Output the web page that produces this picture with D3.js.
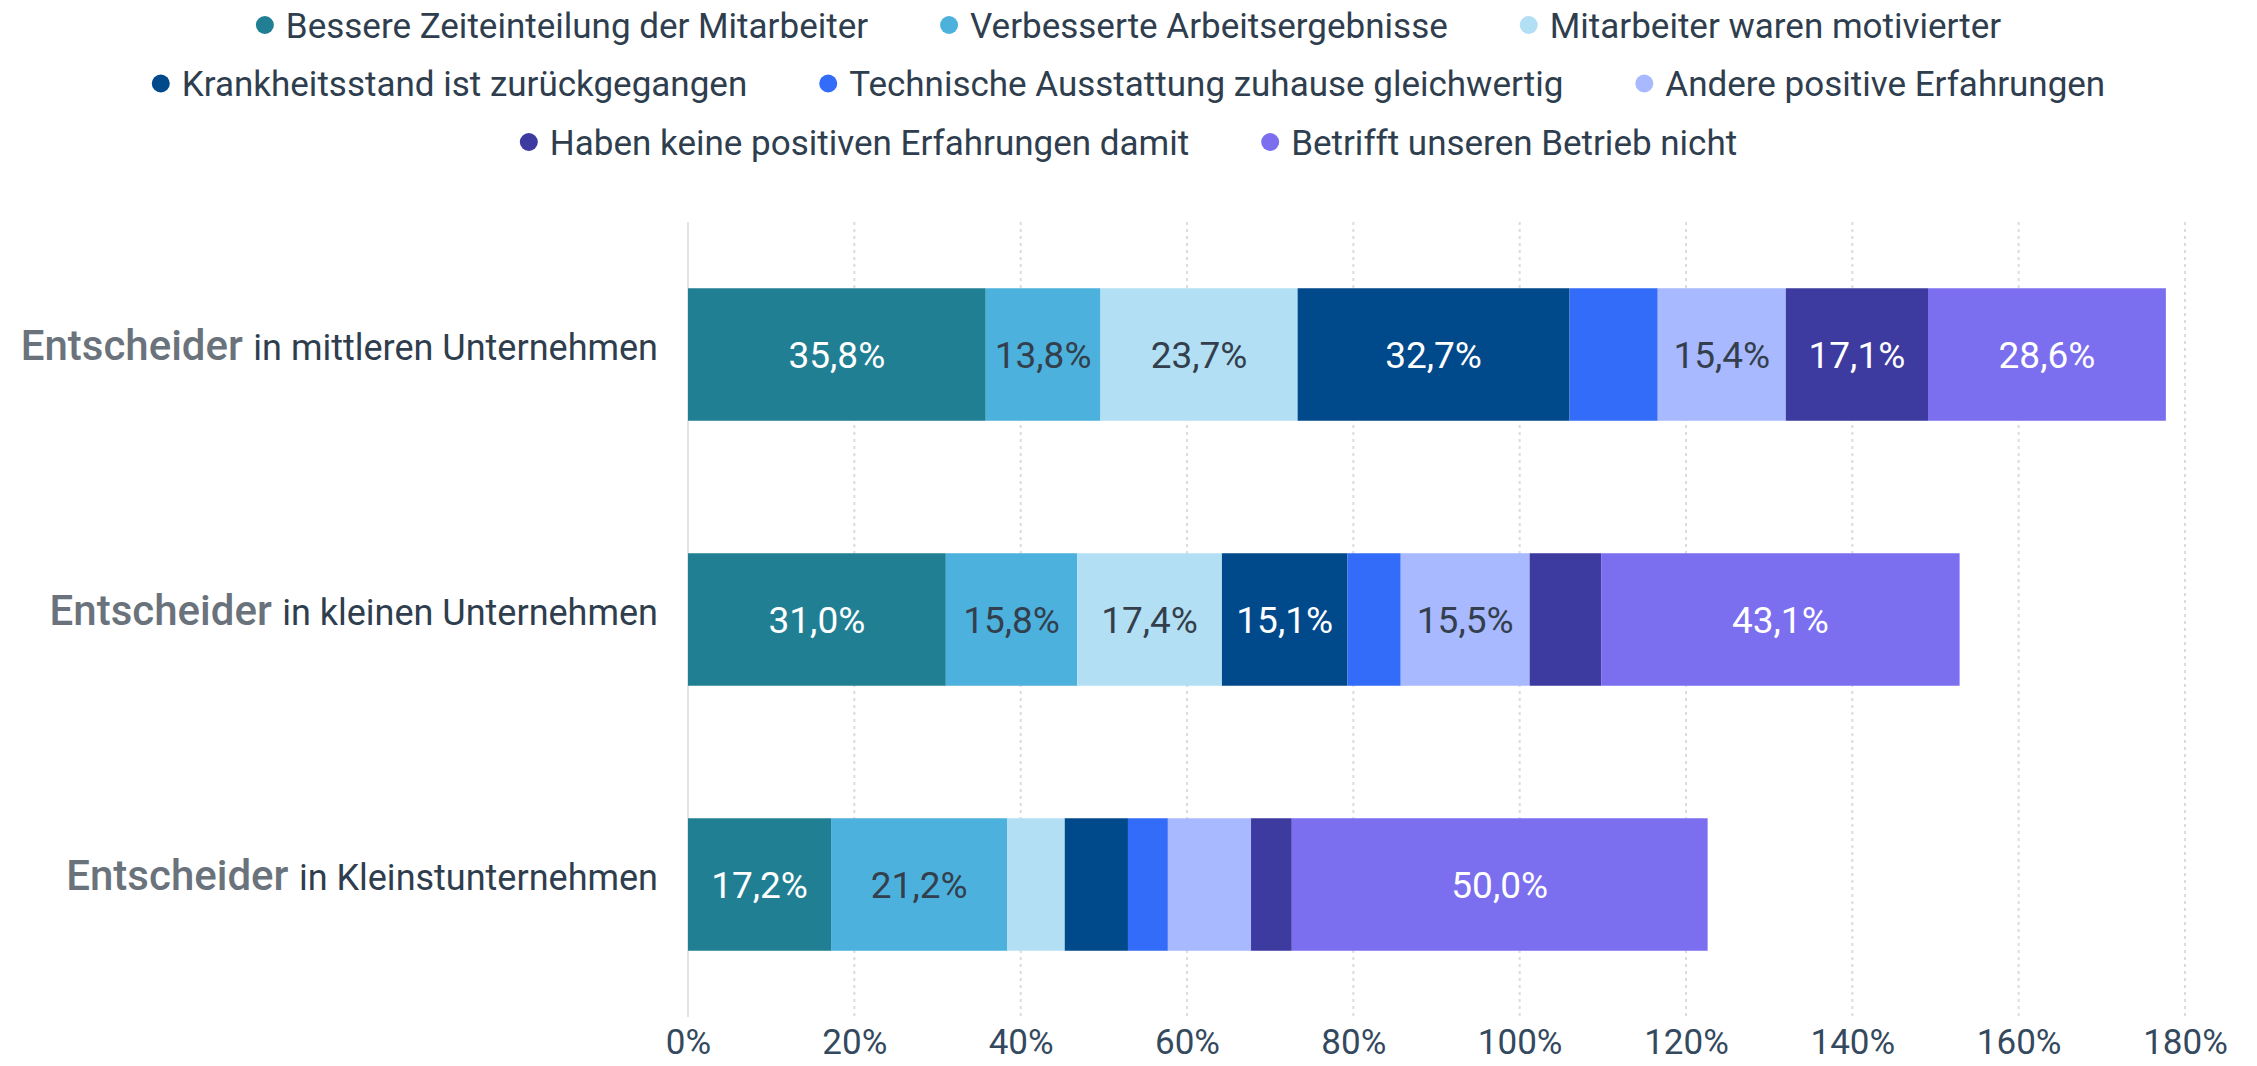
<!DOCTYPE html>
<html>
<head>
<meta charset="utf-8">
<script src="https://cdn.jsdelivr.net/npm/d3@7"></script>
<style>
  body { margin: 0; background: #fff; }
  text { font-family: Roboto, "Noto Sans", sans-serif; }
</style>
</head>
<body>
<svg id="chart"></svg>
<script>
// data
var categories = ["in mittleren Unternehmen", "in kleinen Unternehmen", "in Kleinstunternehmen"];
var seriesNames = [
  "Bessere Zeiteinteilung der Mitarbeiter",
  "Verbesserte Arbeitsergebnisse",
  "Mitarbeiter waren motivierter",
  "Krankheitsstand ist zurückgegangen",
  "Technische Ausstattung zuhause gleichwertig",
  "Andere positive Erfahrungen",
  "Haben keine positiven Erfahrungen damit",
  "Betrifft unseren Betrieb nicht"
];
var zeiteinteilung = [35.8, 31.0, 17.2];
var arbeitsergebnisse = [13.8, 15.8, 21.2];
var motivierter = [23.7, 17.4, 6.9];
var krankheitsstand = [32.7, 15.1, 7.6];
var ausstattung = [10.6, 6.4, 4.8];
var andere = [15.4, 15.5, 10.0];
var keine = [17.1, 8.6, 4.9];
var betrifftNicht = [28.6, 43.1, 50.0];
var xTicks = [0, 20, 40, 60, 80, 100, 120, 140, 160, 180];

var seriesValues = [zeiteinteilung, arbeitsergebnisse, motivierter, krankheitsstand,
                    ausstattung, andere, keine, betrifftNicht];
var colors = ["#217f94", "#4db1dd", "#b3dff5", "#00498b", "#336cf9", "#a8b9ff", "#3d3aa0", "#7b6ff0"];
var labelColors = ["#fff", "#333f4c", "#333f4c", "#fff", "#fff", "#333f4c", "#fff", "#fff"];
var legendRows = [[0, 1, 2], [3, 4, 5], [6, 7]];

var svgWidth = 2257, svgHeight = 1066;
var svg = d3.select("#chart").attr("width", svgWidth).attr("height", svgHeight);

var x = d3.scaleLinear().domain([0, 180]).range([688, 2185]);
var y = d3.scaleBand().domain(categories).range([222, 1017]).paddingInner(0.5).paddingOuter(0.25);

// stacked layout
var rows = categories.map(function(c, i) {
  var row = { cat: c };
  seriesNames.forEach(function(s, j) { row[s] = seriesValues[j][i]; });
  return row;
});
var stacked = d3.stack().keys(seriesNames)(rows);

// grid
svg.append("g").selectAll("line")
  .data(xTicks.slice(1))
  .join("line")
  .attr("x1", d => x(d)).attr("x2", d => x(d))
  .attr("y1", 222).attr("y2", 1017)
  .attr("stroke", "#dcdcdc")
  .attr("stroke-width", 2)
  .attr("stroke-dasharray", "3,4");

svg.append("line")
  .attr("x1", x(0)).attr("x2", x(0))
  .attr("y1", 222).attr("y2", 1017)
  .attr("stroke", "#e3e4e8")
  .attr("stroke-width", 2);

// bars
var layer = svg.append("g").selectAll("g")
  .data(stacked)
  .join("g")
  .attr("fill", (d, i) => colors[i]);

layer.selectAll("rect")
  .data(d => d)
  .join("rect")
  .attr("x", d => x(d[0]))
  .attr("y", d => y(d.data.cat))
  .attr("width", d => x(d[1]) - x(d[0]))
  .attr("height", y.bandwidth());

// value labels
stacked.forEach(function(s, i) {
  svg.append("g").selectAll("text")
    .data(s.filter(d => d[1] - d[0] >= 12))
    .join("text")
    .attr("x", d => (x(d[0]) + x(d[1])) / 2)
    .attr("y", d => y(d.data.cat) + y.bandwidth() / 2)
    .attr("dy", "0.36em")
    .attr("text-anchor", "middle")
    .attr("fill", labelColors[i])
    .style("font-size", "37px")
    .text(d => (d[1] - d[0]).toFixed(1).replace(".", ",") + "%");
});

// category labels
var catLabels = svg.append("g").selectAll("text")
  .data(categories)
  .join("text")
  .attr("x", 658)
  .attr("y", d => y(d) + y.bandwidth() / 2)
  .attr("dy", "0.36em")
  .attr("text-anchor", "end");
catLabels.append("tspan")
  .attr("fill", "#6a737c")
  .style("font-size", "42px")
  .style("font-weight", "500")
  .text("Entscheider ");
catLabels.append("tspan")
  .attr("fill", "#2f3e4e")
  .style("font-size", "36px")
  .text(d => d);

// x axis
var xAxis = d3.axisBottom(x).tickValues(xTicks).tickSize(0).tickPadding(0).tickFormat(d => d + "%");
var ax = svg.append("g").attr("transform", "translate(0,1042)").call(xAxis);
ax.select(".domain").remove();
ax.selectAll("text")
  .attr("dy", "0.35em")
  .attr("fill", "#34495e")
  .style("font-size", "35px");

// legend
legendRows.forEach(function(r, ri) {
  var g = svg.append("g");
  var cx = 0;
  r.forEach(function(si) {
    var item = g.append("g").attr("transform", "translate(" + cx + ",0)");
    item.append("circle").attr("cx", 9).attr("cy", 0).attr("r", 9).attr("fill", colors[si]);
    var t = item.append("text")
      .attr("x", 30).attr("y", 0).attr("dy", "0.36em")
      .attr("fill", "#2f3e4e")
      .style("font-size", "35px")
      .text(seriesNames[si]);
    cx += 30 + t.node().getComputedTextLength() + 72;
  });
  var total = cx - 72;
  g.attr("transform", "translate(" + (svgWidth / 2 - total / 2) + "," + (25 + ri * 58.5) + ")");
});
</script>
</body>
</html>
